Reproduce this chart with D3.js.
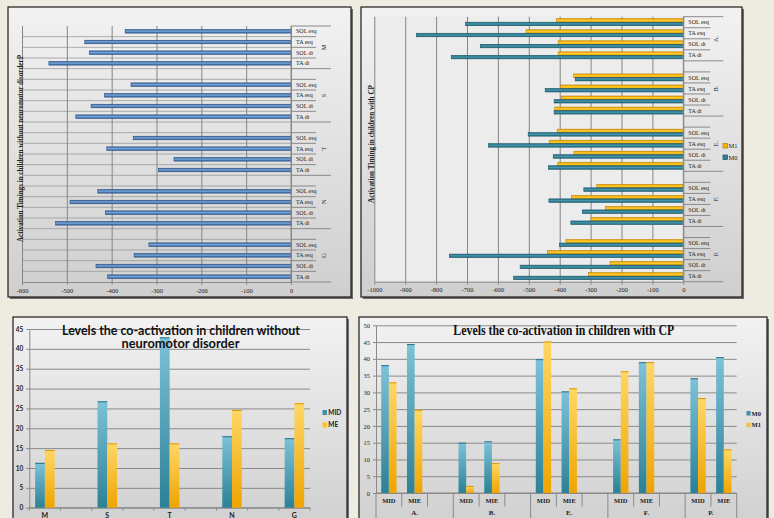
<!DOCTYPE html>
<html>
<head>
<meta charset="utf-8">
<script src="https://cdn.jsdelivr.net/npm/d3@7"></script>
<style>
body { margin: 0; background: #eeebe0; }
svg { display: block; }
</style>
</head>
<body>
<div id="chart-area"></div>
<script>
// ---- Data ----
const rowLabels = ['SOL esq', 'TA esq', 'SOL dt', 'TA dt'];

// top left: timings, children without neuromotor disorder
const tlGroups = ['M', 'S', 'T', 'N', 'G'];
const tlM = [-370, -460, -450, -540];
const tlS = [-357, -416, -446, -480];
const tlT = [-352, -411, -261, -296];
const tlN = [-431, -493, -414, -525];
const tlG = [-317, -350, -435, -409];
const tlTicks = [-600, -500, -400, -300, -200, -100, 0];

// top right: timings, children with CP
const trGroups = ['A.', 'B.', 'E.', 'F.', 'P.'];
const trM0 = [-705, -864, -657, -751, -350, -447, -418, -418, -502, -631, -421, -437,
              -322, -435, -327, -364, -401, -757, -528, -549];
const trM1 = [-410, -509, -405, -405, -355, -397, -395, -416, -408, -434, -354, -406,
              -280, -362, -252, -299, -380, -439, -237, -307];
const trTicks = [-1000, -900, -800, -700, -600, -500, -400, -300, -200, -100, 0];

// bottom left: co-activation, children without neuromotor disorder
const blCats = ['M', 'S', 'T', 'N', 'G'];
const blMID = [11.3, 26.8, 42.9, 18.0, 17.5];
const blME = [14.5, 16.2, 16.2, 24.6, 26.3];
const blTicks = [0, 5, 10, 15, 20, 25, 30, 35, 40, 45];

// bottom right: co-activation, children with CP
const brGroups = ['A.', 'B.', 'E.', 'F.', 'P.'];
const brSubs = ['MID', 'MIE'];
const brM0 = [38.1, 44.4, 15.0, 15.4, 39.9, 30.3, 16.0, 39.0, 34.2, 40.5];
const brM1 = [33.0, 24.8, 2.1, 8.9, 45.2, 31.2, 36.3, 39.0, 28.3, 13.0];
const brTicks = [0, 5, 10, 15, 20, 25, 30, 35, 40, 45, 50];

const serif = '"Liberation Serif", "DejaVu Serif", serif';
const sans = 'Lato, "Open Sans", sans-serif';

// ---- SVG ----
const svg = d3.select('#chart-area')
    .append('svg')
    .attr('width', 774)
    .attr('height', 518);

svg.append('rect').attr('width', 774).attr('height', 518).attr('fill', '#eeebe0');

const defs = svg.append('defs');
function grad(id, stops, vertical) {
    const lg = defs.append('linearGradient').attr('id', id)
        .attr('x1', 0).attr('y1', 0)
        .attr('x2', vertical ? 0 : 1).attr('y2', vertical ? 1 : 0);
    stops.forEach(s => lg.append('stop').attr('offset', s[0]).attr('stop-color', s[1]));
}
grad('panelGrad', [[0, '#f2f2f2'], [1, '#cfcfcf']], true);
grad('blueBar', [[0, '#33629f'], [0.45, '#7aa5da'], [1, '#2f5b94']], true);
grad('orangeBarH', [[0, '#e7a000'], [0.5, '#ffcb2e'], [1, '#eaa400']], true);
grad('tealBarH', [[0, '#226e83'], [0.5, '#4596ad'], [1, '#1f6478']], true);
grad('tealCol', [[0, '#7dc2d8'], [1, '#2b8196']], true);
grad('orangeCol', [[0, '#ffd766'], [1, '#efa400']], true);

function frame(x, y, w, h) {
    svg.append('rect').attr('x', x + 2).attr('y', y + 2).attr('width', w).attr('height', h)
        .attr('fill', '#6d6d6d');
    svg.append('rect').attr('x', x).attr('y', y).attr('width', w).attr('height', h)
        .attr('fill', 'url(#panelGrad)').attr('stroke', '#1c1c1c').attr('stroke-width', 1.2);
}
frame(8, 7, 343, 290);
frame(361, 7, 381, 290);
frame(13, 317, 334, 215);
frame(359, 317, 408, 215);

// ---- horizontal timing charts ----
function timingChart(cfg) {
    const g = svg.append('g');
    const keys = [];
    cfg.groups.forEach((grp, gi) => {
        if (gi > 0) keys.push(grp + '|');
        rowLabels.forEach(r => keys.push(grp + '|' + r));
    });

    const x = d3.scaleLinear().domain([cfg.ticks[0], 0]).range([cfg.left, cfg.right]);
    const y = d3.scaleBand().domain(keys).range([cfg.top, cfg.bottom]);
    const ys = d3.scaleBand().domain(cfg.series.map(s => s.name))
        .range([0, y.bandwidth()]).paddingOuter(cfg.pad);

    if (cfg.plotFill) {
        g.append('rect').attr('x', cfg.left).attr('y', cfg.top)
            .attr('width', cfg.right - cfg.left).attr('height', cfg.bottom - cfg.top)
            .attr('fill', cfg.plotFill);
    }

    // row grid lines
    if (cfg.hGrid) {
        g.selectAll('.hgrid').data(keys.slice(1)).join('line')
            .attr('x1', cfg.left).attr('x2', cfg.right)
            .attr('y1', d => y(d)).attr('y2', d => y(d))
            .attr('stroke', '#9a9a9a').attr('stroke-width', 0.8);
    }

    // value grid lines
    g.append('g').attr('transform', 'translate(0,' + cfg.bottom + ')')
        .call(d3.axisBottom(x).tickValues(cfg.ticks).tickSize(-(cfg.bottom - cfg.top)).tickFormat(() => ''))
        .call(a => a.select('.domain').remove())
        .selectAll('line').attr('stroke', cfg.gridColor).attr('stroke-width', 1);

    // value axis
    const xAxis = g.append('g').attr('transform', 'translate(0,' + cfg.bottom + ')')
        .call(d3.axisBottom(x).tickValues(cfg.ticks).tickSize(3).tickSizeOuter(0)
            .tickPadding(3).tickFormat(d => String(d)))
        .attr('font-family', serif).attr('font-size', 6.5);
    xAxis.select('.domain').attr('stroke', '#8a8a8a');
    xAxis.selectAll('line').attr('stroke', '#8a8a8a');
    xAxis.selectAll('text').attr('fill', '#222');

    // bars
    cfg.series.forEach(s => {
        const data = [];
        cfg.groups.forEach((grp, gi) => rowLabels.forEach((r, ri) => {
            data.push({ key: grp + '|' + r, v: s.values[gi * 4 + ri] });
        }));
        g.selectAll(null).data(data).join('rect')
            .attr('x', d => x(d.v))
            .attr('width', d => x(0) - x(d.v))
            .attr('y', d => y(d.key) + ys(s.name))
            .attr('height', ys.bandwidth())
            .attr('fill', s.fill)
            .attr('stroke', s.stroke)
            .attr('stroke-width', 0.6);
    });

    // category axis on the right
    g.append('line').attr('x1', x(0)).attr('x2', x(0))
        .attr('y1', cfg.top).attr('y2', cfg.bottom).attr('stroke', '#8a8a8a');
    const bounds = keys.map((k, i) => ({ y: y(k), grp: i === 0 || k.endsWith('|') }))
        .concat([{ y: cfg.bottom, grp: true }]);
    g.selectAll('.ctick').data(bounds).join('line')
        .attr('x1', x(0))
        .attr('x2', d => x(0) + (d.grp ? cfg.grpTick : cfg.rowTick))
        .attr('y1', d => d.y).attr('y2', d => d.y)
        .attr('stroke', '#8a8a8a').attr('stroke-width', 1);

    g.selectAll('.rlabel').data(keys.filter(k => !k.endsWith('|'))).join('text')
        .attr('x', x(0) + 5)
        .attr('y', d => y(d) + y.bandwidth() / 2)
        .attr('dy', '0.35em')
        .attr('font-family', serif).attr('font-size', 6).attr('fill', '#222')
        .text(d => d.split('|')[1]);

    cfg.groups.forEach(grp => {
        const gk = keys.filter(k => k.startsWith(grp + '|'));
        const cy = (y(gk[0]) + y(gk[gk.length - 1]) + y.bandwidth()) / 2;
        g.append('text')
            .attr('transform', 'translate(' + (x(0) + cfg.grpDx) + ',' + cy + ') rotate(-90)')
            .attr('text-anchor', 'middle').attr('dy', '0.35em')
            .attr('font-family', serif).attr('font-size', 6.5).attr('fill', '#222')
            .text(grp);
    });

    // axis title
    g.append('text')
        .attr('transform', 'translate(' + cfg.titleX + ',' + cfg.titleY + ') rotate(-90)')
        .attr('text-anchor', 'middle').attr('dy', '0.35em')
        .attr('font-family', serif).attr('font-weight', 'bold').attr('font-size', 7.5)
        .attr('fill', '#222')
        .attr('textLength', cfg.titleLen).attr('lengthAdjust', 'spacingAndGlyphs')
        .text(cfg.title);

    return g;
}

timingChart({
    groups: tlGroups,
    series: [{ name: 'v', values: [].concat(tlM, tlS, tlT, tlN, tlG), fill: 'url(#blueBar)', stroke: '#2a5185' }],
    ticks: tlTicks,
    left: 22, right: 291, top: 26, bottom: 282,
    pad: 1, hGrid: true, gridColor: '#858585',
    rowTick: 25, grpTick: 40, grpDx: 33,
    title: 'Activation Timings in children without neuromotor disorderP',
    titleX: 20, titleY: 148.5, titleLen: 187
});

const trChart = timingChart({
    groups: trGroups,
    series: [
        { name: 'M1', values: trM1, fill: 'url(#orangeBarH)', stroke: '#c08400' },
        { name: 'M0', values: trM0, fill: 'url(#tealBarH)', stroke: '#1b5566' }
    ],
    ticks: trTicks,
    left: 374.3, right: 683.3, top: 16.7, bottom: 281.7,
    pad: 0.58, hGrid: false, gridColor: '#858585', plotFill: '#ececec',
    rowTick: 27, grpTick: 40, grpDx: 32,
    title: 'Activation Timing in children with CP',
    titleX: 371, titleY: 144, titleLen: 118
});

// legend top right
[['M1', '#f5b400', '#b57d00'], ['M0', '#2f8299', '#174f5e']].forEach((d, i) => {
    trChart.append('rect').attr('x', 723).attr('y', 146 + i * 11.5 - 2.5)
        .attr('width', 4.5).attr('height', 4.5).attr('fill', d[1]).attr('stroke', d[2]).attr('stroke-width', 0.7);
    trChart.append('text').attr('x', 728.5).attr('y', 146 + i * 11.5).attr('dy', '0.35em')
        .attr('font-family', serif).attr('font-size', 6.5).attr('fill', '#222').text(d[0]);
});

// ---- bottom left: columns ----
const bl = svg.append('g');
const blKeys = blCats.flatMap((c, i) => i ? ['_' + i, c] : [c]);
const blX = d3.scaleBand().domain(blKeys).range([29.3, 310]);
const blXs = d3.scaleBand().domain(['MID', 'ME']).range([0, blX.bandwidth()]).paddingOuter(0.6);
const blY = d3.scaleLinear().domain([0, 45]).range([507.7, 329]);

bl.append('g').attr('transform', 'translate(29.3,0)')
    .call(d3.axisLeft(blY).tickValues(blTicks).tickSize(-(310 - 29.3)).tickFormat(() => ''))
    .call(a => a.select('.domain').remove())
    .selectAll('line').attr('stroke', '#8a8a8a').attr('stroke-width', 1);

const blYAxis = bl.append('g').attr('transform', 'translate(29.3,0)')
    .call(d3.axisLeft(blY).tickValues(blTicks).tickSize(3).tickSizeOuter(0).tickPadding(3))
    .attr('font-family', sans).attr('font-size', 6.5).attr('font-weight', 'bold');
blYAxis.selectAll('line, .domain').attr('stroke', '#8a8a8a');
blYAxis.selectAll('text').attr('fill', '#222');

bl.append('line').attr('x1', 29.3).attr('x2', 310).attr('y1', blY(0)).attr('y2', blY(0))
    .attr('stroke', '#8a8a8a');
bl.selectAll('.xt').data(blKeys.map(k => blX(k)).concat([310])).join('line')
    .attr('x1', d => d).attr('x2', d => d).attr('y1', blY(0)).attr('y2', blY(0) + 3)
    .attr('stroke', '#8a8a8a');

[['MID', blMID, 'url(#tealCol)', '#2a7286'], ['ME', blME, 'url(#orangeCol)', '#dc9600']].forEach(s => {
    const data = blCats.map((c, i) => ({ c: c, v: s[1][i] }));
    bl.selectAll(null).data(data).join('rect')
        .attr('x', d => blX(d.c) + blXs(s[0]))
        .attr('width', blXs.bandwidth())
        .attr('y', d => blY(d.v))
        .attr('height', d => blY(0) - blY(d.v))
        .attr('fill', s[2]);
    bl.selectAll(null).data(data).join('line')
        .attr('x1', d => blX(d.c) + blXs(s[0])).attr('x2', d => blX(d.c) + blXs(s[0]) + blXs.bandwidth())
        .attr('y1', d => blY(d.v) + 0.5).attr('y2', d => blY(d.v) + 0.5)
        .attr('stroke', s[3]).attr('stroke-width', 1);
});

bl.selectAll('.xl').data(blCats).join('text')
    .attr('x', d => blX(d) + blX.bandwidth() / 2).attr('y', 515.7).attr('dy', '0.35em')
    .attr('text-anchor', 'middle')
    .attr('font-family', sans).attr('font-size', 7).attr('font-weight', 'bold').attr('fill', '#222')
    .text(d => d);

bl.append('text').attr('x', 181).attr('y', 330.5).attr('dy', '0.35em').attr('text-anchor', 'middle')
    .attr('font-family', sans).attr('font-size', 12.5).attr('font-weight', 'bold').attr('fill', '#111')
    .attr('textLength', 238).attr('lengthAdjust', 'spacingAndGlyphs')
    .text('Levels the co-activation in children without');
bl.append('text').attr('x', 180.5).attr('y', 344).attr('dy', '0.35em').attr('text-anchor', 'middle')
    .attr('font-family', sans).attr('font-size', 12.5).attr('font-weight', 'bold').attr('fill', '#111')
    .attr('textLength', 118).attr('lengthAdjust', 'spacingAndGlyphs')
    .text('neuromotor disorder');

[['MID', '#3a90a8'], ['ME', '#fbc02a']].forEach((d, i) => {
    bl.append('rect').attr('x', 322.5).attr('y', 410 + i * 12.5).attr('width', 4.5).attr('height', 5)
        .attr('fill', d[1]);
    bl.append('text').attr('x', 328.3).attr('y', 412.7 + i * 12.3).attr('dy', '0.35em')
        .attr('font-family', sans).attr('font-size', 6.5).attr('font-weight', 'bold').attr('fill', '#222')
        .text(d[0]);
});

// ---- bottom right: columns with two-level axis ----
const br = svg.append('g');
const brKeys = brGroups.flatMap((grp, gi) => {
    const ks = brSubs.map(s => grp + '|' + s);
    return gi < brGroups.length - 1 ? ks.concat([grp + '|']) : ks;
});
const brX = d3.scaleBand().domain(brKeys).range([376, 736.7]);
const brXs = d3.scaleBand().domain(['M0', 'M1']).range([0, brX.bandwidth()]).paddingOuter(0.68);
const brY = d3.scaleLinear().domain([0, 50]).range([493, 325.3]);

br.append('g').attr('transform', 'translate(376,0)')
    .call(d3.axisLeft(brY).tickValues(brTicks).tickSize(-(736.7 - 376)).tickFormat(() => ''))
    .call(a => a.select('.domain').remove())
    .selectAll('line').attr('stroke', '#8a8a8a').attr('stroke-width', 1);

const brYAxis = br.append('g').attr('transform', 'translate(376,0)')
    .call(d3.axisLeft(brY).tickValues(brTicks).tickSize(3).tickSizeOuter(0).tickPadding(3))
    .attr('font-family', serif).attr('font-size', 6.5);
brYAxis.selectAll('line, .domain').attr('stroke', '#8a8a8a');
brYAxis.selectAll('text').attr('fill', '#222');

br.append('line').attr('x1', 376).attr('x2', 736.7).attr('y1', brY(0)).attr('y2', brY(0))
    .attr('stroke', '#8a8a8a');

const brBounds = brKeys.map((k, i) => ({
    x: brX(k),
    grp: i === 0 || k.endsWith('|MID')
})).concat([{ x: 736.7, grp: true }]);
br.selectAll('.xt').data(brBounds).join('line')
    .attr('x1', d => d.x).attr('x2', d => d.x)
    .attr('y1', brY(0)).attr('y2', d => d.grp ? 520 : 506.7)
    .attr('stroke', '#8a8a8a');

[['M0', brM0, 'url(#tealCol)', '#2a7286'], ['M1', brM1, 'url(#orangeCol)', '#dc9600']].forEach(s => {
    const data = [];
    brGroups.forEach((grp, gi) => brSubs.forEach((sub, si) => {
        data.push({ key: grp + '|' + sub, v: s[1][gi * 2 + si] });
    }));
    br.selectAll(null).data(data).join('rect')
        .attr('x', d => brX(d.key) + brXs(s[0]))
        .attr('width', brXs.bandwidth())
        .attr('y', d => brY(d.v))
        .attr('height', d => brY(0) - brY(d.v))
        .attr('fill', s[2]);
    br.selectAll(null).data(data).join('line')
        .attr('x1', d => brX(d.key) + brXs(s[0])).attr('x2', d => brX(d.key) + brXs(s[0]) + brXs.bandwidth())
        .attr('y1', d => brY(d.v) + 0.5).attr('y2', d => brY(d.v) + 0.5)
        .attr('stroke', s[3]).attr('stroke-width', 1);
});

br.selectAll('.sl').data(brKeys.filter(k => !k.endsWith('|'))).join('text')
    .attr('x', d => brX(d) + brX.bandwidth() / 2).attr('y', 501).attr('dy', '0.35em')
    .attr('text-anchor', 'middle')
    .attr('font-family', serif).attr('font-size', 6.5).attr('font-weight', 'bold').attr('fill', '#222')
    .text(d => d.split('|')[1]);

br.selectAll('.gl').data(brGroups).join('text')
    .attr('x', d => {
        const gk = brKeys.filter(k => k.startsWith(d + '|'));
        return (brX(gk[0]) + brX(gk[gk.length - 1]) + brX.bandwidth()) / 2;
    })
    .attr('y', 512.7).attr('dy', '0.35em').attr('text-anchor', 'middle')
    .attr('font-family', serif).attr('font-size', 7).attr('font-weight', 'bold').attr('fill', '#222')
    .text(d => d);

br.append('text').attr('x', 563.8).attr('y', 330).attr('dy', '0.35em').attr('text-anchor', 'middle')
    .attr('font-family', serif).attr('font-size', 14).attr('font-weight', 'bold').attr('fill', '#111')
    .attr('textLength', 221).attr('lengthAdjust', 'spacingAndGlyphs')
    .text('Levels the co-activation in children with CP');

[['M0', '#3a90a8'], ['M1', '#fbc02a']].forEach((d, i) => {
    br.append('rect').attr('x', 746.5).attr('y', 411 + i * 11.7).attr('width', 4).attr('height', 4.5)
        .attr('fill', d[1]);
    br.append('text').attr('x', 751.5).attr('y', 413.3 + i * 11.7).attr('dy', '0.35em')
        .attr('font-family', serif).attr('font-size', 6.5).attr('font-weight', 'bold').attr('fill', '#222')
        .text(d[0]);
});
</script>
</body>
</html>
